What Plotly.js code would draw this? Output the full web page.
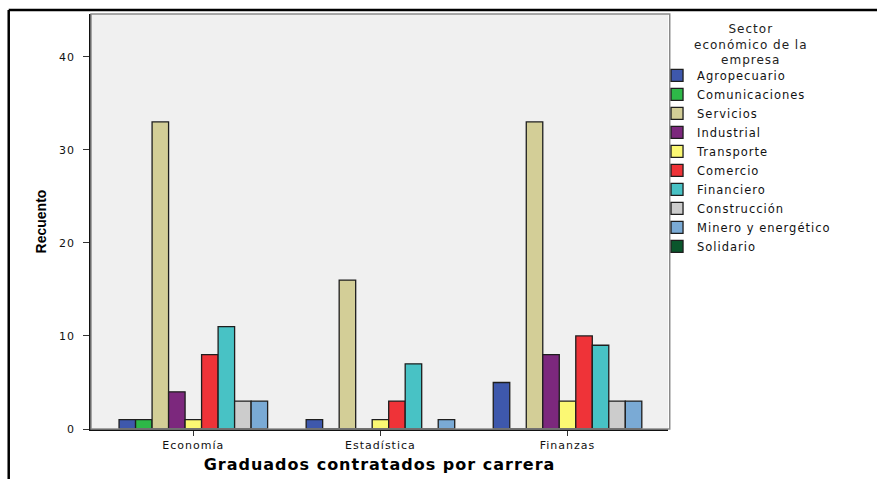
<!DOCTYPE html>
<html>
<head>
<meta charset="utf-8">
<script src="https://cdn.plot.ly/plotly-3.0.1.min.js"></script>
<style>
  html, body { margin: 0; padding: 0; background: #ffffff; }
  #chart { width: 877px; height: 479px; }
  svg text { letter-spacing: 1px; }
  svg text.ytitle { letter-spacing: 0px; }
</style>
</head>
<body>
<div id="chart"></div>
<script>
// Categories (careers)
const carreras = ["Economía", "Estadística", "Finanzas"];

// Series: economic sector of the hiring company (counts per career)
const agropecuario   = [1, 1, 5];
const comunicaciones = [1, 0, 0];
const servicios      = [33, 16, 33];
const industrial     = [4, 0, 8];
const transporte     = [1, 1, 3];
const comercio       = [8, 3, 10];
const financiero     = [11, 7, 9];
const construccion   = [3, 0, 3];
const mineroEnerg    = [3, 1, 3];
const solidario      = [0, 0, 0];

const sectorNames = ["Agropecuario", "Comunicaciones", "Servicios", "Industrial", "Transporte",
                     "Comercio", "Financiero", "Construcción", "Minero y energético", "Solidario"];
const sectorValues = [agropecuario, comunicaciones, servicios, industrial, transporte,
                      comercio, financiero, construccion, mineroEnerg, solidario];
const sectorColors = ["#3E58AC", "#2EB848", "#D3CE97", "#7C287D", "#FBF873",
                      "#EF3338", "#48C2C5", "#CCCCCC", "#7AAAD5", "#0A562C"];

const legendTitleLines = ["Sector", "económico de la", "empresa"];
const yTicks = [0, 10, 20, 30, 40];

const FONT = "DejaVu Sans, Verdana, sans-serif";

const traces = sectorNames.map((name, i) => ({
  type: "bar",
  name: name,
  x: carreras,
  y: sectorValues[i],
  // Solidario has no counts; keep it off the grouping axis so it takes no slot
  xaxis: name === "Solidario" ? "x2" : "x",
  marker: { color: sectorColors[i], line: { color: "#1e1e1e", width: 1.3 } },
  hoverinfo: "x+y+name"
}));

const xRange = [-0.547, 2.537];

const layout = {
  width: 877,
  height: 479,
  margin: { l: 91, r: 209, t: 14, b: 50, pad: 0 },
  paper_bgcolor: "#ffffff",
  plot_bgcolor: "#F0F0F0",
  barmode: "group",
  bargap: 0.206,
  bargroupgap: 0,
  font: { family: FONT, size: 11, color: "#111111" },
  showlegend: true,
  legend: {
    x: 0.981, xanchor: "left",
    y: 0.887, yanchor: "top",
    bgcolor: "rgba(0,0,0,0)",
    borderwidth: 0,
    traceorder: "normal",
    font: { family: FONT, size: 11.5, color: "#111111" }
  },
  annotations: [{
    // legend title, centred above the legend
    text: legendTitleLines.join("<br>"),
    align: "center",
    xref: "paper", yref: "paper",
    x: 1.143, y: 0.9855,
    xanchor: "center", yanchor: "top",
    showarrow: false,
    font: { family: FONT, size: 12, color: "#222222" }
  }],
  xaxis: {
    type: "category",
    range: xRange,
    showline: true, linecolor: "#111111", linewidth: 1.5,
    ticks: "outside", ticklen: 5, tickcolor: "#333333", tickwidth: 1,
    showgrid: false, zeroline: false,
    tickfont: { family: FONT, size: 11, color: "#111111" },
    title: {
      text: "Graduados contratados por carrera",
      font: { family: "DejaVu Sans, Verdana, sans-serif", size: 16, color: "#000000", weight: "bold" },
      standoff: 8
    }
  },
  xaxis2: {
    type: "category",
    overlaying: "x",
    matches: "x",
    visible: false
  },
  yaxis: {
    range: [0, 44.6],
    tickvals: yTicks,
    ticktext: yTicks.map(String),
    showline: true, linecolor: "#111111", linewidth: 1.5,
    ticks: "outside", ticklen: 6, tickcolor: "#333333", tickwidth: 1,
    ticklabelstandoff: 6,
    showgrid: false, zeroline: false,
    tickfont: { family: FONT, size: 11, color: "#111111" },
    title: {
      text: "Recuento",
      font: { family: "Liberation Sans, Arial, sans-serif", size: 14, color: "#000000", weight: "bold" },
      standoff: 9
    }
  },
  shapes: [
    // plot-area frame (top/right in grey)
    { type: "rect", xref: "paper", yref: "paper", x0: 0, x1: 1.003, y0: 0, y1: 1,
      line: { color: "#8a8a8a", width: 1.5 }, layer: "above" },
    // outer figure frame: top and left edges
    { type: "line", xref: "paper", yref: "paper", x0: -0.1426, x1: 1.365, y0: 1.0096, y1: 1.0096,
      line: { color: "#000000", width: 2.5 } },
    { type: "line", xref: "paper", yref: "paper", x0: -0.1426, x1: -0.1426, y0: 1.0096, y1: -0.13,
      line: { color: "#000000", width: 2.5 } }
  ]
};

Plotly.newPlot("chart", traces, layout, { displayModeBar: false, responsive: false });
</script>
</body>
</html>
